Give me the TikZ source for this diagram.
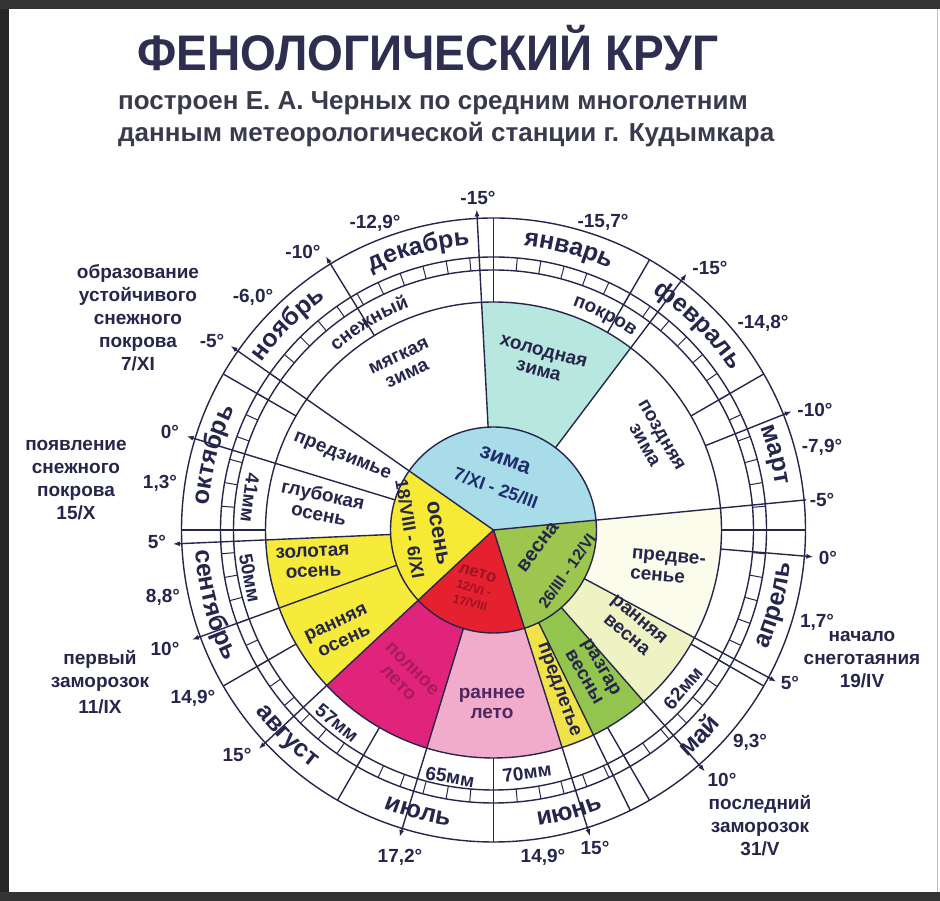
\documentclass[tikz,border=0pt]{standalone}
\usepackage{fontspec}
\setmainfont{Liberation Sans}
\usetikzlibrary{arrows.meta,decorations.text}
\definecolor{ink}{HTML}{26264C}
\definecolor{titlec}{HTML}{2E2E50}
\definecolor{subc}{HTML}{3A3A4E}
\definecolor{winterc}{HTML}{A8DCE8}
\definecolor{coldw}{HTML}{B8E7E0}
\definecolor{springc}{HTML}{9CC64E}
\definecolor{summerc}{HTML}{E5202F}
\definecolor{autumnc}{HTML}{F6EA34}
\definecolor{fullsum}{HTML}{E0247C}
\definecolor{earlysum}{HTML}{F2ACCB}
\definecolor{presum}{HTML}{F1E24A}
\definecolor{peakspr}{HTML}{93C44E}
\definecolor{earlyspr}{HTML}{EFF3C4}
\definecolor{prespr}{HTML}{FBFCEC}
\definecolor{goldaut}{HTML}{F6EA3A}
\definecolor{darkred}{HTML}{9A1424}
\definecolor{darkmag}{HTML}{A81A5C}
\definecolor{plum}{HTML}{4E2660}
\definecolor{wintxt}{HTML}{1F2D6E}
\newcommand\annsec[5]{\fill[#1] (#2:#4) arc[start angle=#2,end angle=#3,radius=#4] -- (#3:#5) arc[start angle=#3,end angle=#2,radius=#5] -- cycle;}
\newcommand\arcup[4]{\path[decorate,decoration={text along path,text align=center,text color=ink,text={|#3|#4}}] ({#1+30}:#2) arc[start angle={#1+30},end angle={#1-30},radius=#2];}
\newcommand\arcdn[4]{\path[decorate,decoration={text along path,text align=center,text color=ink,text={|#3|#4}}] ({#1-30}:#2) arc[start angle={#1-30},end angle={#1+30},radius=#2];}
\newcommand\monthf{\fontsize{25}{25}\selectfont\bfseries}
\newcommand\ringf{\fontsize{19}{19}\selectfont\bfseries}
\begin{document}
\begin{tikzpicture}[x=1pt,y=1pt,
  every node/.style={inner sep=0pt, text=ink},
  lab/.style={font=\fontsize{19}{19}\selectfont\bfseries},
  sublab/.style={font=\fontsize{19}{20}\selectfont\bfseries, align=center},
  sidelab/.style={font=\fontsize{19}{23}\selectfont\bfseries, align=center},
  mmlab/.style={font=\fontsize{19}{19}\selectfont\bfseries},
  disclab/.style={font=\fontsize{22}{22}\selectfont\bfseries},
  datelab/.style={font=\fontsize{18}{18}\selectfont\bfseries},
  ring/.style={draw=ink, line width=1.4pt},
  tickl/.style={draw=ink, line width=1pt},
  markl/.style={draw=ink, line width=1.4pt, -{Latex[length=7pt,width=5pt]}},
]
\useasboundingbox (0,0) rectangle (940,901);
\fill[white] (0,0) rectangle (940,901);
% frame
\fill[black!85] (0,0) rectangle (9,901);
\fill[black!80] (0,892) rectangle (940,901);
\fill[black!80] (0,0) rectangle (940,9);
\draw[black!25, line width=1pt] (937,9) -- (937,892);

% titles
\node[font=\fontsize{50}{50}\selectfont\bfseries, text=titlec] (title) at (428,853) {\scalebox{0.92}[1]{ФЕНОЛОГИЧЕСКИЙ КРУГ}};
\node[anchor=west, font=\fontsize{26}{26}\selectfont\bfseries, text=subc] (sub1) at (118,798) {построен Е. А. Черных по средним многолетним};
\node[anchor=west, font=\fontsize{26}{26}\selectfont\bfseries, text=subc] (sub2) at (118,766) {данным метеорологической станции г. Кудымкара};

\begin{scope}[shift={(493.5,371)}]
  % sub-season sectors
  \annsec{coldw}{53}{93}{103}{228}
  \annsec{prespr}{-28.2}{5.5}{103}{228}
  \annsec{earlyspr}{-48.8}{-28.2}{103}{228}
  \annsec{peakspr}{-64}{-48.8}{103}{228}
  \annsec{presum}{-72.5}{-64}{103}{228}
  \annsec{earlysum}{-107}{-72.5}{103}{228}
  \annsec{fullsum}{-137}{-107}{103}{228}
  \annsec{goldaut}{182.5}{223}{103}{228}
  % seasons disc
  \fill[winterc] (0,0) -- (5.5:103) arc[start angle=5.5,end angle=145,radius=103] -- cycle;
  \fill[springc] (0,0) -- (-72.5:103) arc[start angle=-72.5,end angle=5.5,radius=103] -- cycle;
  \fill[summerc] (0,0) -- (-137:103) arc[start angle=-137,end angle=-72.5,radius=103] -- cycle;
  \fill[autumnc] (0,0) -- (145:103) arc[start angle=145,end angle=223,radius=103] -- cycle;
  % circles
  \foreach \r in {103,228,260,273,312} \draw[ring] (0,0) circle[radius=\r];
  % season dividers
  \foreach \a in {5.5,-72.5,-137,145} \draw[ring] (0,0) -- (\a:103);
  % pentad ticks
  \foreach \a in {0,5,...,355} \draw[tickl] (\a:260) -- (\a:273);
  % month boundaries
  \foreach \a in {0,30,60,90,150,180,210,240,270,300,330} \draw[ring] (\a:228) -- (\a:312);
  % temperature / phenological lines
  \foreach \a in {93,53,-28.2,-48.8,-72.5,-107,-137,200,182.5,163,145} \draw[markl] (\a:103) -- (\a:321);
  \foreach \a in {121.5,21.7,-4.8} \draw[markl] (\a:228) -- (\a:321);
  \draw[ring] (5.5:103) -- (5.5:314);
  \draw[ring] (-64:103) -- (-64:312);
  % month names
  \arcup{165}{286}{\monthf}{октябрь}
  \arcup{135}{286}{\monthf}{ноябрь}
  \arcup{105}{286}{\monthf}{декабрь}
  \arcup{75}{286}{\monthf}{январь}
  \arcup{45}{286}{\monthf}{февраль}
  \arcup{15}{286}{\monthf}{март}
  \arcdn{-15}{299}{\monthf}{апрель}
  \arcdn{-45}{299}{\monthf}{май}
  \arcdn{-75}{299}{\monthf}{июнь}
  \arcdn{-105}{299}{\monthf}{июль}
  \arcdn{-135}{299}{\monthf}{август}
  \arcdn{-165}{299}{\monthf}{сентябрь}
  % snow cover
  \arcup{121}{238}{\ringf}{снежный}
  \arcup{62.5}{238}{\ringf}{покров}
\end{scope}

% precipitation
\node[mmlab, rotate=-97] (mm41) at (250,403) {41мм};
\node[mmlab, rotate=-79] (mm50) at (250,323) {50мм};
\node[mmlab, rotate=-39] (mm57) at (337,178) {57мм};
\node[mmlab, rotate=-10] (mm65) at (450,124) {65мм};
\node[mmlab, rotate=8] (mm70) at (527,128) {70мм};
\node[mmlab, rotate=50] (mm62) at (683,213) {62мм};

% seasons
\node[disclab, rotate=-20, text=wintxt] (zima) at (505,441) {зима};
\node[datelab, rotate=-20, text=wintxt] (zimad) at (496,413) {7/XI - 25/III};
\node[disclab, rotate=-80] (osen) at (438,368) {осень};
\node[datelab, rotate=-80] (osend) at (410,372) {18/VIII - 6/XI};
\node[font=\fontsize{20}{20}\selectfont\bfseries, rotate=53] (vesna) at (538,354) {весна};
\node[font=\fontsize{16}{16}\selectfont\bfseries, rotate=55] (vesnad) at (567,330) {26/III - 12/VI};
\node[font=\fontsize{17}{15}\selectfont\bfseries, align=center, rotate=-15, text=darkred] (leto) at (474,313) {лето\\{\fontsize{12}{12}\selectfont 12/VI -}\\{\fontsize{12}{12}\selectfont 17/VIII}};

% sub-seasons
\node[sublab, rotate=25] (myag) at (403,536) {мягкая\\зима};
\node[sublab, rotate=-15] (hol) at (541,540) {холодная\\зима};
\node[sublab, rotate=-60] (pozd) at (653,461) {поздняя\\зима};
\node[sublab, align=left, rotate=-5] (predv) at (668,334) {предве-\\сенье};
\node[sublab, rotate=-40] (rvesna) at (633,274) {ранняя\\весна};
\node[sublab, rotate=-60] (razgar) at (593,229) {разгар\\весны};
\node[sublab, rotate=-70] (predlet) at (558,211) {предлетье};
\node[sublab, text=plum] (rleto) at (492,198) {раннее\\лето};
\node[sublab, rotate=-45, text=darkmag] (pleto) at (405,225) {полное\\лето};
\node[sublab, rotate=25] (rosen) at (340,269) {ранняя\\осень};
\node[sublab, rotate=3] (zosen) at (313,339) {золотая\\осень};
\node[sublab, rotate=-12] (gosen) at (321,397) {глубокая\\осень};
\node[sublab, rotate=-22] (predz) at (342,444) {предзимье};

% side notes
\node[sidelab] (snowform) at (138,583) {образование\\устойчивого\\снежного\\покрова\\7/XI};
\node[sidelab] (snowfirst) at (76,421) {появление\\снежного\\покрова\\15/X};
\node[sidelab] (frostfirst) at (100,219) {первый\\заморозок\\[3pt]11/IX};
\node[sidelab] (thaw) at (862,241) {начало\\снеготаяния\\19/IV};
\node[sidelab] (frostlast) at (760,75) {последний\\заморозок\\31/V};

% temperature thresholds
\node[lab] (t1) at (478,703) {-15°};
\node[lab] (t2) at (710,633) {-15°};
\node[lab] (t3) at (815,491) {-10°};
\node[lab] (t4) at (822,401) {-5°};
\node[lab] (t5) at (828,343) {0°};
\node[lab] (t6) at (790,218) {5°};
\node[lab] (t7) at (722,121) {10°};
\node[lab] (t8) at (595,53) {15°};
\node[lab] (t9) at (237,146) {15°};
\node[lab] (t10) at (165,252) {10°};
\node[lab] (t11) at (157,359) {5°};
\node[lab] (t12) at (170,469) {0°};
\node[lab] (t13) at (212,560) {-5°};
\node[lab] (t14) at (303,649) {-10°};
% monthly means
\node[lab] (m12) at (375,678) {-12,9°};
\node[lab] (m1) at (603,679) {-15,7°};
\node[lab] (m2) at (763,578) {-14,8°};
\node[lab] (m3) at (822,454) {-7,9°};
\node[lab] (m4) at (817,279) {1,7°};
\node[lab] (m5) at (750,159) {9,3°};
\node[lab] (m6) at (543,44) {14,9°};
\node[lab] (m7) at (400,44) {17,2°};
\node[lab] (m8) at (193,203) {14,9°};
\node[lab] (m9) at (163,304) {8,8°};
\node[lab] (m10) at (160,418) {1,3°};
\node[lab] (m11) at (253,604) {-6,0°};
\end{tikzpicture}
\end{document}
